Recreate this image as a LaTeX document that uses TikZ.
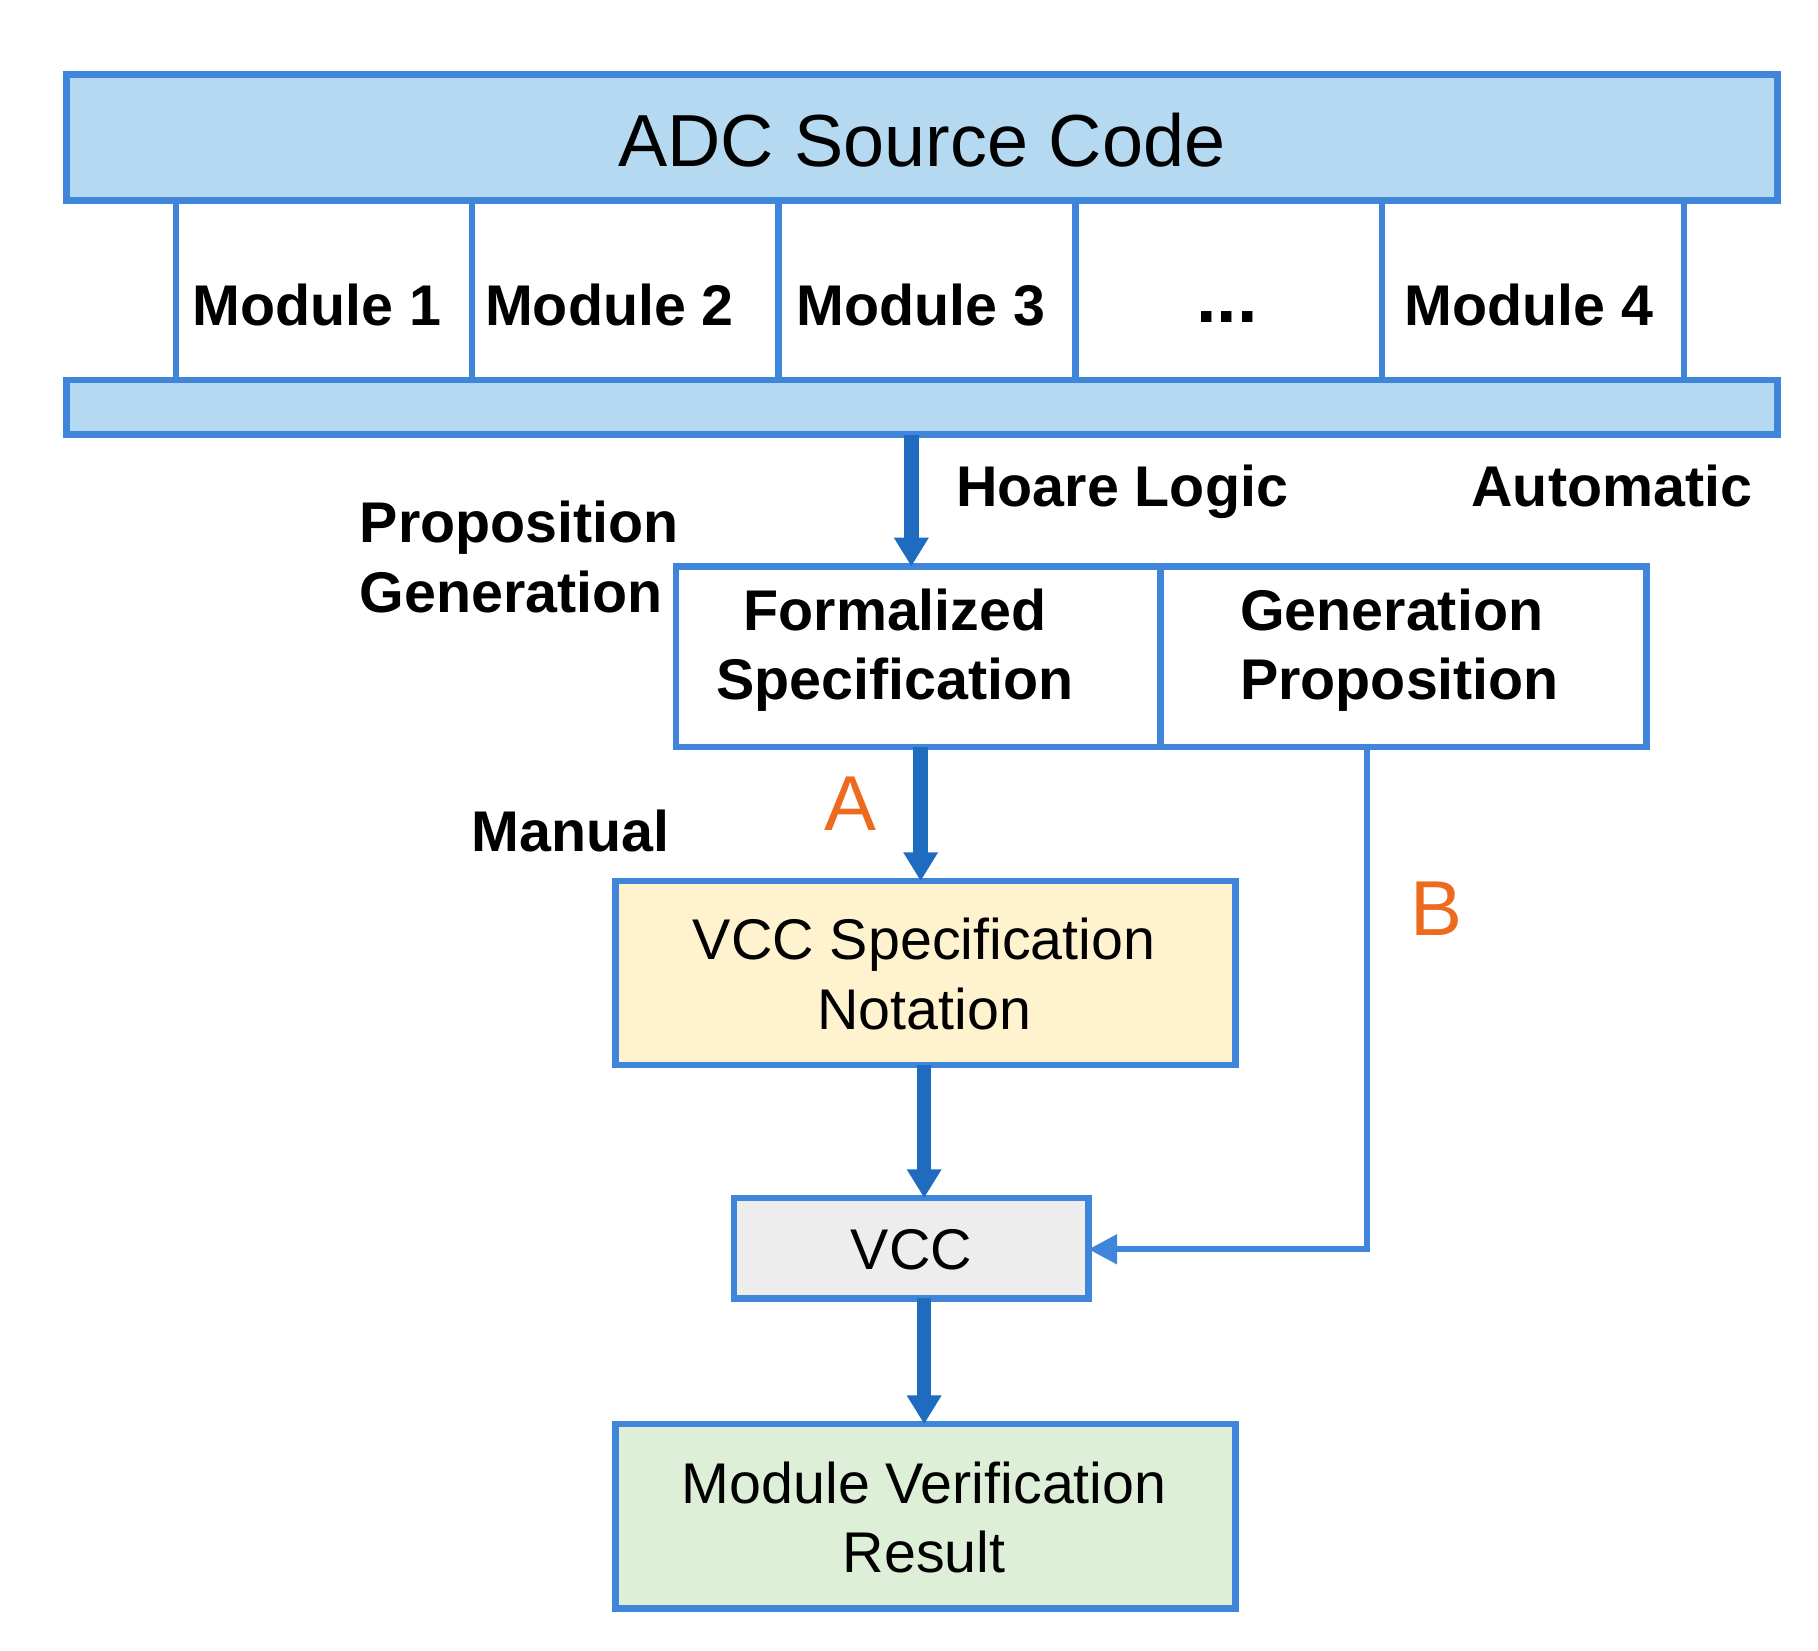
\documentclass[tikz,border=0pt]{standalone}
\usepackage{fontspec}
\setmainfont{Liberation Sans}
\usetikzlibrary{arrows.meta}
\definecolor{bl}{HTML}{3F86DA}
\definecolor{dbl}{HTML}{1F6BBF}
\definecolor{lb}{HTML}{B5D9F0}
\definecolor{org}{HTML}{EE6A1E}
\begin{document}
\begin{tikzpicture}[x=0.01cm,y=-0.01cm,
 box/.style={draw=bl,line width=1.6pt,inner sep=0pt},
 lbl/.style={font=\fontsize{14}{17}\selectfont\bfseries,align=left,inner sep=0pt},
 txt/.style={font=\fontsize{14}{17}\selectfont,align=center,inner sep=0pt},
 thick arr/.style={draw=dbl,line width=3.5pt,-{Triangle[length=7pt,width=8pt]}},
 thin arr/.style={draw=bl,line width=1.5pt,-{Triangle[length=7pt,width=7pt]}}]
\useasboundingbox (0,0) rectangle (1560,1416);
% top box
\draw[box,fill=lb] (57,64) rectangle (1525,172);
\node[font=\fontsize{18}{22}\selectfont] (adc) at (791,120) {ADC Source Code};
\draw[box,fill=lb] (57,326) rectangle (1525,373);
\coordinate (bar) at (782,373);
\foreach \x in {151,405,668,923,1186,1445} \draw[draw=bl,line width=1.6pt] (\x,172) -- (\x,326);
\node[lbl] (m1) at (272,262) {Module 1};
\node[lbl] (m2) at (523,262) {Module 2};
\node[lbl] (m3) at (790,262) {Module 3};
\node[lbl] (dots) at (1053,272) {\fontsize{18}{18}\selectfont...};
\node[lbl] (m4) at (1312,262) {Module 4};
% labels
\node[lbl,anchor=west] (hoare) at (820,422) {Hoare Logic};
\node[lbl,anchor=west] (auto) at (1262,417) {Automatic};
\node[lbl,anchor=west] (pg) at (308,478) {Proposition\\Generation};
\node[lbl,anchor=west] (man) at (404,713) {Manual};
% middle boxes
\draw[box] (580,486) rectangle (996,641);
\draw[box] (996,486) rectangle (1413,641);
\coordinate (fs) at (782,486);
\node[lbl,align=center] (fst) at (768,558) {Formalized\\Specification};
\node[lbl,align=left] (gpt) at (1201,558) {Generation\\Proposition};
\coordinate (fsb) at (790,641);
\coordinate (gpb) at (1173,641);
% VCC spec
\draw[box,fill={rgb,255:red,255;green,242;blue,206}] (528,756) rectangle (1060,914);
\node[txt] (vsn) at (793,836) {VCC Specification\\Notation};
\coordinate (vst) at (790,756);
\coordinate (vsb) at (793,914);
% VCC
\draw[box,fill={rgb,255:red,237;green,237;blue,237}] (630,1028) rectangle (934,1114);
\node[txt] (vcc) at (782,1072) {VCC};
\coordinate (vt) at (793,1028);
\coordinate (vb) at (793,1114);
\coordinate (vr) at (934,1072);
% result
\draw[box,fill={rgb,255:red,222;green,239;blue,216}] (528,1222) rectangle (1060,1380);
\node[txt] (res) at (793,1302) {Module Verification\\Result};
\coordinate (rt) at (793,1222);
% arrows
\draw[thick arr] (bar) -- (fs);
\draw[thick arr] (fsb) -- (vst);
\draw[thick arr] (vsb) -- (vt);
\draw[thick arr] (vb) -- (rt);
\draw[thin arr] (gpb) |- (vr);
\node[font=\fontsize{19}{22}\selectfont,text=org] (A) at (730,690) {A};
\node[font=\fontsize{19}{22}\selectfont,text=org] (B) at (1233,780) {B};
\end{tikzpicture}
\end{document}
